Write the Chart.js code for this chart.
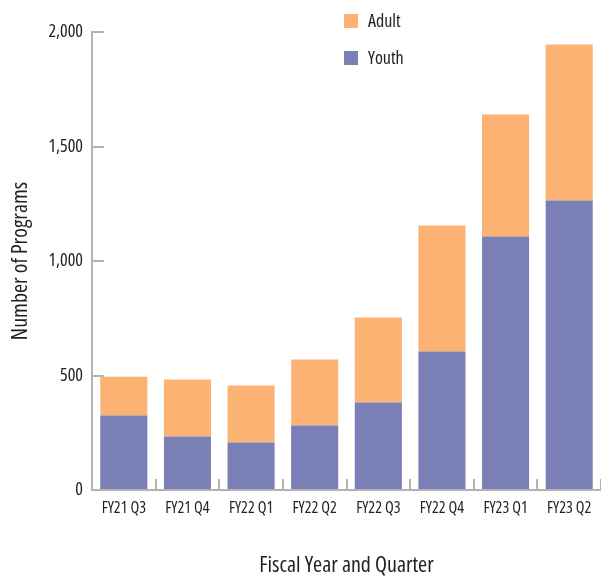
<!DOCTYPE html>
<html>
<head>
<meta charset="utf-8">
<script src="https://cdn.jsdelivr.net/npm/chart.js@4"></script>
<style>
  html, body { margin: 0; padding: 0; background: #fff; }
  #wrap { width: 601px; height: 578px; position: relative; }
</style>
</head>
<body>
<div id="wrap"><canvas id="chart"></canvas></div>
<script>
const quarters = ["FY21 Q3", "FY21 Q4", "FY22 Q1", "FY22 Q2", "FY22 Q3", "FY22 Q4", "FY23 Q1", "FY23 Q2"];
const youth = [325, 234, 207, 282, 382, 605, 1107, 1264];
const adult = [170, 248, 249, 288, 371, 550, 533, 681];
const yTicks = [0, 500, 1000, 1500, 2000];

// Open Sans is a variable font here, "condensed" narrows it
const FONT = "'Open Sans', Roboto, sans-serif";
const STRETCH = "condensed";
const axisGrey = "#b3b3b3";

// legend drawn by hand: two rows, Adult above Youth
const stackedLegend = {
  id: "stackedLegend",
  afterDraw(chart) {
    const ctx = chart.ctx;
    const items = chart.data.datasets.slice().reverse();
    ctx.save();
    ctx.font = STRETCH + " 18px " + FONT;
    ctx.textBaseline = "middle";
    ctx.textAlign = "left";
    items.forEach((ds, i) => {
      let y = 14 + i * 37;
      ctx.fillStyle = ds.backgroundColor;
      ctx.fillRect(344, y, 14, 14);
      ctx.fillStyle = "#222";
      ctx.fillText(ds.label, 368, y + 8);
    });
    ctx.restore();
  },
};

Chart.defaults.font.family = FONT;
Chart.defaults.font.weight = STRETCH;
Chart.defaults.color = "#222";

const chart = new Chart("chart", {
  type: "bar",
  data: {
    labels: quarters,
    datasets: [
      { label: "Youth", data: youth, backgroundColor: "#7a7fb6" },
      { label: "Adult", data: adult, backgroundColor: "#fbb272" },
    ],
  },
  options: {
    responsive: true,
    maintainAspectRatio: false,
    animation: false,
    layout: { padding: { top: 32, left: 0, right: 0, bottom: 0 } },
    datasets: { bar: { categoryPercentage: 1, barPercentage: 0.74, borderWidth: 0 } },
    plugins: {
      legend: { display: false },
      tooltip: { enabled: false },
    },
    scales: {
      x: {
        stacked: true,
        afterFit: (s) => {
          s.height = 88;
          s.paddingLeft = 0;
          s.paddingRight = 0;
        },
        border: { display: true, color: axisGrey, width: 2 },
        grid: { drawOnChartArea: false, tickLength: -11, color: axisGrey, lineWidth: 2, offset: true },
        ticks: { padding: 20, maxRotation: 0, autoSkip: false, font: { size: 16 } },
        title: { display: true, text: "Fiscal Year and Quarter", font: { size: 22, lineHeight: 1 }, padding: { top: 0, bottom: 1 } },
      },
      y: {
        stacked: true,
        min: 0,
        max: 2000,
        afterFit: (s) => { s.width = 92; },
        afterBuildTicks: (s) => { s.ticks = yTicks.map((v) => ({ value: v })); },
        border: { display: true, color: axisGrey, width: 2 },
        grid: { drawOnChartArea: false, tickLength: -12, color: axisGrey, lineWidth: 2 },
        ticks: { padding: 21, font: { size: 18 } },
        title: { display: true, text: "Number of Programs", font: { size: 22, lineHeight: 1 }, padding: { top: 10, bottom: 0 } },
      },
    },
  },
  plugins: [stackedLegend],
});
</script>
</body>
</html>
